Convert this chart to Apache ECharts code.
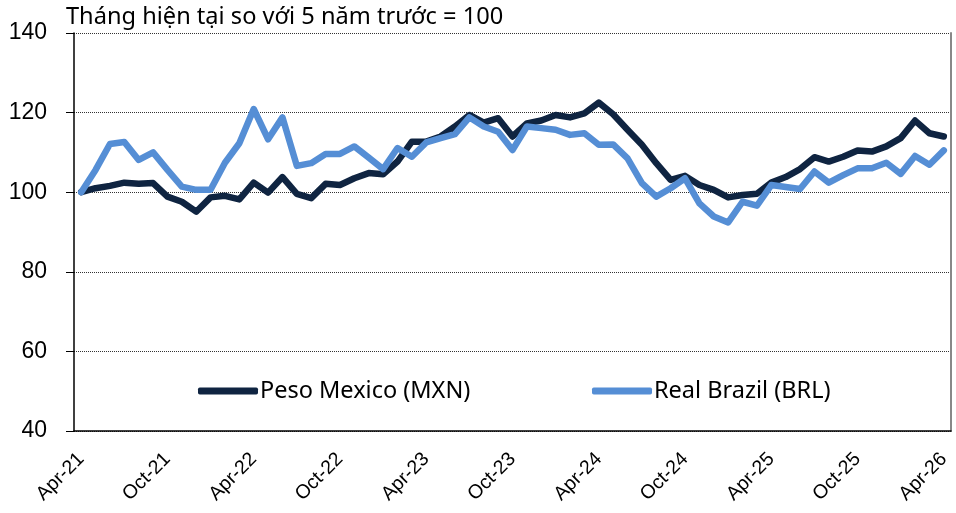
<!DOCTYPE html>
<html lang="vi">
<head>
	<meta charset="UTF-8">
	<script src="https://cdn.jsdelivr.net/npm/echarts@6/dist/echarts.min.js"></script>
	<style>
		body{margin:0;background:#fff;}
		#chart{width:956px;height:513px;}
	</style>
</head>
<body>
<div id="chart"></div>
<script>
  // thang: Apr-21 .. Apr-26
  var monthNames=['Jan','Feb','Mar','Apr','May','Jun','Jul','Aug','Sep','Oct','Nov','Dec'];
  var months=[];
  for(var i=0;i<61;i++){
    var m=(3+i)%12, y=21+Math.floor((3+i)/12);
    months.push(monthNames[m]+'-'+y);
  }
  var mxn=[100,101.0,101.6,102.4,102.1,102.3,98.9,97.6,95.1,98.7,
           99.1,98.2,102.4,99.9,103.8,99.6,98.5,102.1,101.8,103.5,
           104.8,104.5,107.7,112.7,112.7,114.0,116.5,119.4,117.5,118.6,
           114.0,117.3,118.0,119.4,118.8,119.8,122.5,119.6,115.7,111.9,
           107.3,103.1,104.1,101.8,100.6,98.7,99.3,99.6,102.4,103.8,
           105.8,108.8,107.7,108.9,110.5,110.2,111.5,113.6,118.0,114.8,114.0];
  var brl=[100,105.6,112.1,112.6,108.1,110.0,105.6,101.4,100.6,100.6,
           107.4,112.3,120.9,113.3,118.8,106.6,107.3,109.6,109.6,111.5,
           108.7,105.8,111.1,108.9,112.5,113.6,114.6,118.8,116.5,115.2,
           110.6,116.5,116.1,115.7,114.4,114.8,111.9,112.0,108.5,102.3,
           98.9,101.0,103.5,97.2,93.9,92.4,97.6,96.6,101.8,101.3,
           100.8,105.2,102.4,104.3,106.0,106.0,107.4,104.6,109.1,106.9,110.5];
  var seriesNames=['Peso Mexico (MXN)','Real Brazil (BRL)'];
  var colors=['#0f2441','#558ed5'];

  var chart=echarts.init(document.getElementById('chart'));
  var legendText={fontSize:23.5,color:'#000',fontFamily:'Noto Sans',padding:[0,0,0,-3]};
  var option={
    animation:false,
    title:{
      text:'Tháng hiện tại so với 5 năm trước = 100',
      left:61,
      top:0,
      textStyle:{color:'#000',fontWeight:400,fontSize:23.6,fontFamily:'Noto Sans'}
    },
    legend:[
      {data:[seriesNames[0]],left:193,top:374,icon:'roundRect',itemWidth:60,itemHeight:7,
       textStyle:legendText},
      {data:[seriesNames[1]],left:587,top:374,icon:'roundRect',itemWidth:60,itemHeight:7,
       textStyle:legendText}
    ],
    grid:{left:74,right:5,top:33,bottom:82},
    xAxis:{
      type:'category',
      data:months,
      boundaryGap:true,
      axisLine:{lineStyle:{color:'#000',width:1.5}},
      axisTick:{interval:5,length:6,lineStyle:{color:'#000'}},
      axisLabel:{interval:5,rotate:45,margin:25,fontSize:19.5,color:'#000',fontFamily:'Liberation Sans'}
    },
    yAxis:[
      {
        type:'value',min:40,max:140,interval:20,
        axisLine:{show:true,lineStyle:{color:'#000',width:1.5}},
        axisTick:{show:true,inside:false,length:8,lineStyle:{color:'#000'}},
        axisLabel:{fontSize:23,color:'#000',margin:27,fontFamily:'Liberation Sans'},
        splitLine:{show:true,lineStyle:{color:'#333',type:'dotted',width:1}}
      },
      {
        type:'value',min:40,max:140,interval:20,position:'right',
        axisLine:{show:true,lineStyle:{color:'#888',width:2}},
        axisTick:{show:false},axisLabel:{show:false},splitLine:{show:false}
      }
    ],
    series:[
      {name:seriesNames[0],type:'line',data:mxn,symbol:'none',color:colors[0],
       lineStyle:{width:6.5,cap:'round',join:'round'}},
      {name:seriesNames[1],type:'line',data:brl,symbol:'none',color:colors[1],
       lineStyle:{width:6.5,cap:'round',join:'round'}}
    ]
  };
  chart.setOption(option);
</script>
</body>
</html>
